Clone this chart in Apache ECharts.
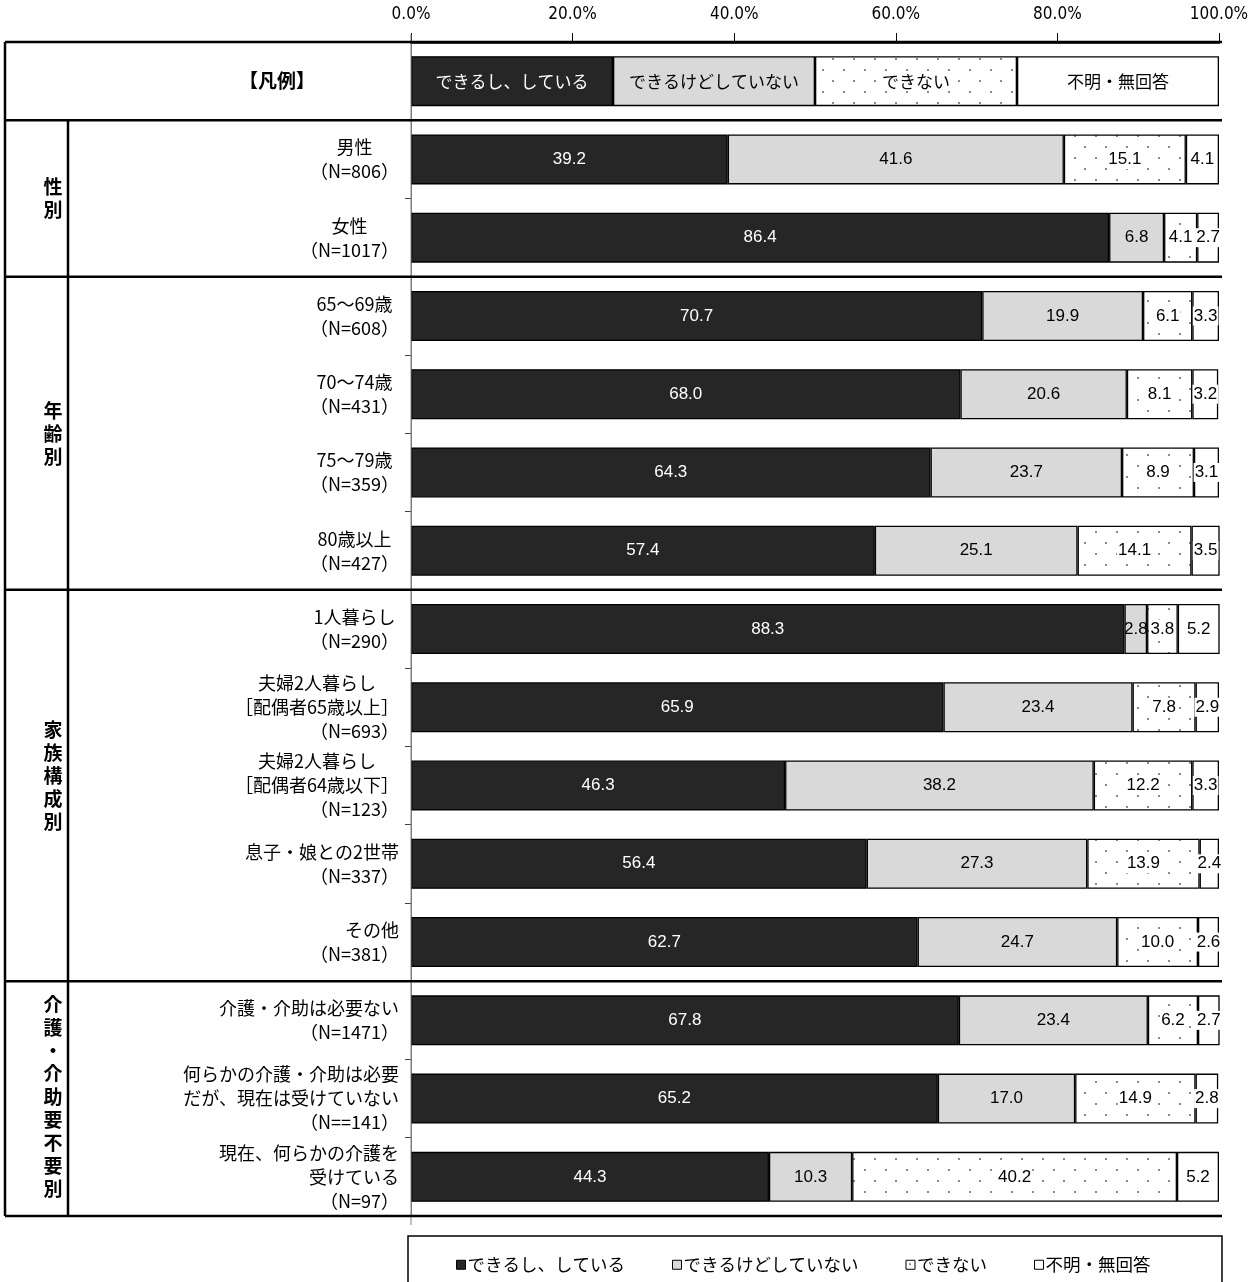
<!DOCTYPE html>
<html><head><meta charset="utf-8">
<script src="https://cdn.jsdelivr.net/npm/echarts@6/dist/echarts.min.js"></script>
<style>html,body{margin:0;padding:0;background:#fff}#c{width:1255px;height:1282px}</style>
</head><body><div id="c"></div>
<script>
// ---------- data ----------
const seriesNames = ['できるし、している', 'できるけどしていない', 'できない', '不明・無回答'];
const legendRowLabel = '【凡例】';
const legendRowValues = [25, 25, 25, 25];
const categories = [
  '男性\n（N=806）',
  '女性\n（N=1017）',
  '65〜69歳\n（N=608）',
  '70〜74歳\n（N=431）',
  '75〜79歳\n（N=359）',
  '80歳以上\n（N=427）',
  '1人暮らし\n（N=290）',
  '夫婦2人暮らし\n［配偶者65歳以上］\n（N=693）',
  '夫婦2人暮らし\n［配偶者64歳以下］\n（N=123）',
  '息子・娘との2世帯\n（N=337）',
  'その他\n（N=381）',
  '介護・介助は必要ない\n（N=1471）',
  '何らかの介護・介助は必要\nだが、現在は受けていない\n（N==141）',
  '現在、何らかの介護を\n受けている\n（N=97）'
];
const groupNames = ['性別', '年齢別', '家族構成別', '介護・介助要不要別'];
const groupSizes = [2, 4, 5, 3];
const xTicks = [0, 20, 40, 60, 80, 100];
const vDoing   = [39.2, 86.4, 70.7, 68.0, 64.3, 57.4, 88.3, 65.9, 46.3, 56.4, 62.7, 67.8, 65.2, 44.3];
const vCanNot  = [41.6, 6.8, 19.9, 20.6, 23.7, 25.1, 2.8, 23.4, 38.2, 27.3, 24.7, 23.4, 17.0, 10.3];
const vUnable  = [15.1, 4.1, 6.1, 8.1, 8.9, 14.1, 3.8, 7.8, 12.2, 13.9, 10.0, 6.2, 14.9, 40.2];
const vUnknown = [4.1, 2.7, 3.3, 3.2, 3.1, 3.5, 5.2, 2.9, 3.3, 2.4, 2.6, 2.7, 2.8, 5.2];
const seriesValues = [vDoing, vCanNot, vUnable, vUnknown];

// ---------- style ----------
const JP = "'Noto Sans CJK JP', 'Noto Sans', sans-serif";
const NUM = "'Liberation Sans', Arial, sans-serif";
const NARROW = "'Liberation Sans Narrow', 'DejaVu Sans Condensed', sans-serif";
// per-line alignment of the category labels (c = centred in block, r = right)
const lineAlign = ['cc', 'cc', 'cc', 'cc', 'cc', 'cc', 'cc', 'ccr', 'ccr', 'rr', 'rr', 'rr', 'rrr', 'rrr'];
// vertical nudge of the group titles
const groupNudge = [0, 0, -10, -2];

const pc = document.createElement('canvas');
pc.width = 21; pc.height = 22;
const g = pc.getContext('2d');
g.fillStyle = '#fff'; g.fillRect(0, 0, 21, 22);
g.fillStyle = '#8a8a8a';
g.fillRect(3, 3, 2, 2); g.fillRect(13, 14, 2, 2);
const dots = { image: pc, repeat: 'repeat' };

const colors = ['#262626', '#d9d9d9', dots, '#ffffff'];
const labelColors = ['#fff', '#000', '#000', '#000'];

const yCats = [legendRowLabel].concat(categories);

const chart = echarts.init(document.getElementById('c'), null, { renderer: 'canvas' });

const series = seriesNames.map((name, si) => ({
  name: name,
  type: 'bar',
  stack: 'all',
  barWidth: 50,
  itemStyle: { color: colors[si], borderColor: '#000', borderWidth: 1.3 },
  label: {
    show: true,
    position: 'inside',
    fontSize: 17,
    fontFamily: NUM,
    color: labelColors[si],
    backgroundColor: si >= 2 ? '#fff' : 'transparent',
    padding: si >= 2 ? [1, 1, 1, 1] : 0,
    formatter: p => p.dataIndex === 0 ? p.seriesName : Number(p.value).toFixed(1)
  },
  data: [{ value: legendRowValues[si], label: { fontSize: 17, fontFamily: JP } }]
    .concat(seriesValues[si])
}));

const richBase = { fontSize: 18, lineHeight: 24, fontFamily: JP, color: '#000' };

chart.setOption({
  animation: false,
  backgroundColor: '#fff',
  grid: { left: 411, right: 36, top: 42, bottom: 66 },
  xAxis: {
    type: 'value', position: 'top', min: xTicks[0], max: xTicks[xTicks.length - 1], interval: xTicks[1] - xTicks[0],
    splitLine: { show: false },
    axisLine: { show: true, lineStyle: { color: '#000', width: 2.5 } },
    axisTick: { show: true, length: 9, lineStyle: { color: '#000', width: 1 } },
    axisLabel: { margin: 19, fontSize: 17, fontFamily: NARROW, color: '#000', formatter: v => v.toFixed(1) + '%' }
  },
  yAxis: {
    type: 'category', inverse: true, data: yCats,
    axisLine: { show: true, lineStyle: { color: '#7f7f7f', width: 1 } },
    axisTick: { show: true, length: 6, lineStyle: { color: '#444' } },
    axisLabel: {
      interval: 0, margin: 12, color: '#000',
      formatter: (val, idx) => {
        if (idx === 0) return '{lg|' + val + '}';
        const codes = lineAlign[idx - 1];
        return val.split('\n').map((l, j) => '{' + (codes[j] || 'r') + '|' + l + '}').join('\n');
      },
      rich: {
        c: Object.assign({ align: 'center' }, richBase),
        r: Object.assign({ align: 'right' }, richBase),
        lg: { fontSize: 19, fontWeight: 'bold', fontFamily: JP, color: '#000', padding: [0, 84, 0, 0] }
      }
    }
  },
  legend: {
    data: seriesNames, left: 451, top: 1251, icon: 'rect',
    itemWidth: 9, itemHeight: 9, itemGap: 47,
    itemStyle: { borderColor: '#000', borderWidth: 1 },
    textStyle: { fontSize: 17.5, fontFamily: JP, color: '#000', padding: [0, 0, 0, -3] }
  },
  series: series
});

// ---------- table decoration, computed from the axes ----------
const yc = i => chart.convertToPixel({ yAxisIndex: 0 }, i);
const band = yc(1) - yc(0);
const edge = i => yc(i) - band / 2;       // top edge of category i
const xL = chart.convertToPixel({ xAxisIndex: 0 }, xTicks[0]);
const xR = chart.convertToPixel({ xAxisIndex: 0 }, xTicks[xTicks.length - 1]);
const left = 5, inner = 68, right = xR + 3;
const graphics = [];
const hline = (y) => graphics.push({ type: 'line', shape: { x1: left, y1: y, x2: right, y2: y }, style: { stroke: '#000', lineWidth: 2.5 }, z: 10 });
const vline = (x, y1, y2) => graphics.push({ type: 'line', shape: { x1: x, y1: y1, x2: x, y2: y2 }, style: { stroke: '#000', lineWidth: 2.5 }, z: 10 });
hline(edge(0));
let start = 1;
groupNames.forEach((name, gi) => {
  const top = edge(start), bottom = edge(start + groupSizes[gi]);
  hline(top);
  graphics.push({
    type: 'text', x: 53, y: (top + bottom) / 2 + groupNudge[gi], z: 10,
    style: { text: name.split('').join('\n'), fontSize: 19, fontWeight: 'bold', fontFamily: JP, lineHeight: 23, align: 'center', verticalAlign: 'middle', fill: '#000' }
  });
  start += groupSizes[gi];
});
const bottomY = edge(start);
hline(bottomY);
vline(left, edge(0), bottomY);
vline(inner, edge(1), bottomY);
graphics.push({ type: 'line', shape: { x1: xL, y1: edge(0) - 8, x2: xL, y2: bottomY + 9 }, style: { stroke: '#7f7f7f', lineWidth: 1 }, z: 5 });
graphics.push({ type: 'rect', shape: { x: xL - 3, y: bottomY + 20, width: right - xL + 3, height: 80 }, style: { fill: null, stroke: '#000', lineWidth: 1.5 }, z: 1 });
chart.setOption({ graphic: graphics });
</script>
</body></html>
